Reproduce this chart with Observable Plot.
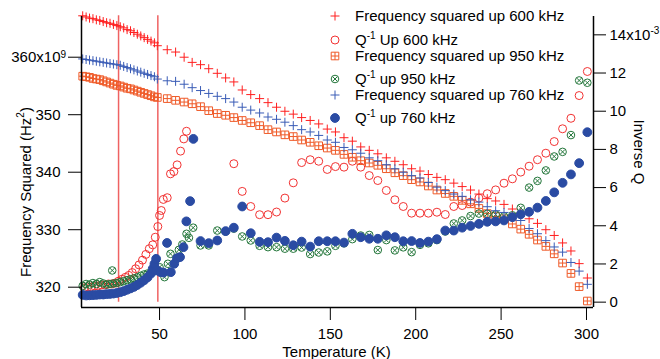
<!DOCTYPE html>
<html><head><meta charset="utf-8">
<script src="https://cdn.jsdelivr.net/npm/d3@7"></script>
<script src="https://cdn.jsdelivr.net/npm/@observablehq/plot@0.6"></script>
<style>
body{margin:0;background:#fff;}
#wrap{position:relative;width:660px;height:359px;font-family:"Liberation Sans",Arial,Helvetica,sans-serif;color:#000;}
.row{position:absolute;left:355px;height:18px;line-height:18px;font-size:15px;white-space:nowrap;}
.row sup{font-size:10px;vertical-align:6px;line-height:0;}
.sym{position:absolute;left:328px;width:14px;height:14px;overflow:visible;}
</style></head><body><div id="wrap"></div>
<script>
// ---------- data ----------
const xTicks = [50, 100, 150, 200, 250, 300];
const fTicks = [320, 330, 340, 350, 360];
const fTickLabels = ["320", "330", "340", "350", "360x10"];
const qTicks = [0, 2, 4, 6, 8, 10, 12, 14];
const qTickLabels = ["0", "2", "4", "6", "8", "10", "12", "14x10"];
const vLines = [26, 49];

// low temperature sweep (frequency squared, 1e9 Hz^2)
const denseT = [5,7,9,11,13,15,17,19,21,23,25,27,29,31,33,35,37,39,41,43,45,47];
const f600Dense = [367.2,367.0,366.8,366.7,366.5,366.4,366.2,366.0,365.9,365.7,365.5,365.3,365.1,364.8,364.6,364.3,364.0,363.7,363.4,363.1,362.8,362.5];
const f950Dense = [356.7,356.6,356.5,356.3,356.2,356.1,355.9,355.7,355.5,355.3,355.1,355.0,354.8,354.6,354.5,354.3,354.1,353.9,353.7,353.5,353.3,353.1];
const f760Dense = [359.7,359.6,359.5,359.4,359.3,359.2,359.1,359.0,358.9,358.8,358.7,358.6,358.4,358.2,358.0,357.8,357.6,357.4,357.2,357.0,356.8,356.6];

// ~5 K steps
const sparseT = [48.7,54.5,59.4,64.4,69.1,74.0,78.8,83.8,88.7,93.5,98.4,103.4,108.6,113.5,118.5,123.4,128.3,133.2,138.2,143.2,148.2,153.0,158.0,162.9,167.8,172.8,177.8,182.8,187.8,192.7,197.6,202.5,207.4,212.4,217.3,222.3,227.2,232.1,237.0,241.9,246.8,251.7,256.6,261.5,266.4,271.3,276.2,281.1,286.0,290.9,295.7,300.5];
const f600Sparse = [362.0,361.3,360.9,360.0,359.1,358.7,358.0,357.2,356.4,355.7,354.3,353.5,352.8,352.1,351.3,350.6,350.1,349.5,349.0,348.4,347.5,347.0,346.0,345.4,344.4,343.8,343.2,342.5,341.9,341.3,340.6,340.2,339.6,339.1,338.7,338.1,337.5,336.9,336.2,335.4,335.0,334.4,333.6,332.9,331.9,331.1,330.0,329.0,327.7,326.3,324.1,321.6];
const f950Sparse = [353.0,352.8,352.5,352.2,351.9,351.4,350.7,350.2,349.9,349.5,349.0,348.6,348.1,347.4,347.0,346.5,346.2,345.6,345.2,344.6,344.2,343.8,343.1,342.6,342.0,341.6,341.2,340.6,339.9,339.4,338.7,338.3,337.6,336.9,336.3,335.8,335.1,334.5,333.7,332.8,332.3,331.9,331.0,330.1,329.2,328.2,327.1,325.8,324.2,322.4,320.1,317.6];
const f760Sparse = [356.2,355.9,355.8,355.3,354.7,354.2,353.7,353.2,352.8,352.2,351.3,350.8,350.3,349.6,349.2,348.7,348.1,347.4,347.0,346.4,345.6,345.2,344.3,343.9,343.3,342.5,342.0,341.3,340.6,340.0,339.4,339.0,338.2,337.4,336.8,336.2,335.8,335.2,334.8,334.0,333.3,333.0,332.2,331.6,330.2,329.3,328.1,327.0,326.1,324.3,322.8,320.5];

// inverse Q (1e-3)
const q600LowT = [6,8,10,12,14,16,18,20,22,24,26,28,30,32,34,36,38,40,42,44,46,47.5,49,50,51,52.2,54.5,56.4,58.4,60.3,62.3,64.2,65.8];
const q600Low = [0.75,0.8,0.8,0.85,0.85,0.9,0.9,0.95,0.95,1.0,1.1,1.2,1.3,1.4,1.55,1.75,1.95,2.2,2.5,2.8,3.0,3.4,3.96,4.54,4.8,5.38,5.47,6.72,6.84,7.19,7.91,8.55,8.95];
const q600Sparse = [7.25,5.80,5.01,4.58,4.58,4.72,5.45,6.25,7.31,7.46,7.38,6.95,7.10,7.07,7.38,7.07,6.63,6.37,5.85,5.36,5.01,4.66,4.66,4.66,4.71,4.59,5.01,5.06,5.24,5.45,5.68,5.88,6.23,6.46,6.81,7.12,7.46,7.80,8.41,9.08,9.63,10.82,12.08];

const q950LowT = [5,7,9,11,13,15,17,19,21,22.3,23,25,27,29,31,33,35,37,39,41,43,45,47,50.0,52.9,54.9,56.4,61.3,63.3,65.8,67.2,69.7];
const q950Low = [0.85,0.95,0.92,1.0,0.95,1.05,0.98,0.92,0.95,1.66,0.98,1.0,1.05,1.1,1.15,1.2,1.25,1.3,1.38,1.45,1.5,1.55,1.65,1.83,1.31,2.01,2.53,2.74,3.02,3.58,3.37,3.90];
const q950Sparse = [2.97,2.97,3.75,3.70,3.85,3.44,3.23,2.95,2.88,2.88,2.80,2.80,2.86,2.52,2.60,2.66,2.95,3.08,3.30,3.49,3.52,2.73,3.25,2.71,2.87,2.62,3.0,3.08,3.25,3.7,4.12,4.28,4.51,4.64,4.63,4.59,4.49,4.55,4.94,6.0,6.35,6.9,7.63,7.87,8.75,11.61,11.49];

const q760LowT = [5,7,9,11,13,15,17,19,21,23,25,27,29,31,33,35,37,39,41,43,45,46,47,48,48.6,50.6,52.3,54.4,56.6,58.6,60.2,62.0,64.0,65.7,67.9,69.8];
const q760Low = [0.38,0.35,0.36,0.37,0.38,0.40,0.40,0.42,0.43,0.45,0.48,0.52,0.58,0.65,0.72,0.80,0.90,1.02,1.15,1.30,1.50,1.75,2.0,2.27,1.66,1.57,1.55,3.1,1.57,2.01,2.3,2.36,2.88,4.23,5.29,8.55];
const q760Sparse = [3.20,3.09,3.23,3.72,3.90,5.01,3.61,3.16,3.14,3.38,3.21,2.98,3.17,2.91,3.19,3.19,3.19,3.12,3.58,3.40,3.32,3.32,3.50,3.40,3.19,3.20,3.10,3.17,3.30,3.75,3.75,3.90,3.99,4.10,4.21,4.23,4.28,4.45,4.60,4.73,4.95,5.30,5.75,6.25,6.69,7.28,8.90];

const legendLabels = [
  {main: "Frequency squared up 600 kHz"},
  {main: "Q", sup: "-1", rest: " Up 600 kHz"},
  {main: "Frequency squared up 950 kHz"},
  {main: "Q", sup: "-1", rest: " up 950 kHz"},
  {main: "Frequency squared up 760 kHz"},
  {main: "Q", sup: "-1", rest: " up 760 kHz"}
];

// ---------- scales / helpers ----------
const xDomain = [4.3, 304.1];
const fDomain = [316.47, 367.08];
const qDomain = [-0.28, 14.96];
const qToF = d3.scaleLinear().domain(qDomain).range(fDomain);

const sym = {
  plus: {draw(c, s){const r=Math.sqrt(s/Math.PI);c.moveTo(-r,0);c.lineTo(r,0);c.moveTo(0,-r);c.lineTo(0,r);}},
  circle: {draw(c, s){const r=Math.sqrt(s/Math.PI);c.moveTo(r,0);c.arc(0,0,r,0,2*Math.PI);c.closePath();}},
  boxplus: {draw(c, s){const r=Math.sqrt(s/Math.PI);c.rect(-r,-r,2*r,2*r);c.moveTo(-r,0);c.lineTo(r,0);c.moveTo(0,-r);c.lineTo(0,r);}},
  otimes: {draw(c, s){const r=Math.sqrt(s/Math.PI);c.moveTo(r,0);c.arc(0,0,r,0,2*Math.PI);c.closePath();const k=r*0.62;c.moveTo(-k,-k);c.lineTo(k,k);c.moveTo(-k,k);c.lineTo(k,-k);}}
};

const C = {f600:"#ff1f1f", q600:"#f23232", f950:"#ef5a28", q950:"#23763a", f760:"#3a5cb6", q760:"#2a4ba3", vline:"#ef6262"};

const rows = (T, V, conv) => T.map((t, i) => ({t, v: conv ? qToF(V[i]) : V[i]}));
const f600 = rows(denseT.concat(sparseT), f600Dense.concat(f600Sparse));
const f950 = rows(denseT.concat(sparseT), f950Dense.concat(f950Sparse));
const f760 = rows(denseT.concat(sparseT), f760Dense.concat(f760Sparse));
const q600 = rows(q600LowT.concat(sparseT.slice(9)), q600Low.concat(q600Sparse), true);
const q950 = rows(q950LowT.concat(sparseT.slice(5)), q950Low.concat(q950Sparse), true);
const q760 = rows(q760LowT.concat(sparseT.slice(5)), q760Low.concat(q760Sparse), true);

const series = [
  {data: f600, symbol: sym.plus, r: 4.5, stroke: C.f600, fill: "none"},
  {data: q600, symbol: sym.circle, r: 4, stroke: C.q600, fill: "none"},
  {data: f950, symbol: sym.boxplus, r: 3.8, stroke: C.f950, fill: "none"},
  {data: q950, symbol: sym.otimes, r: 3.8, stroke: C.q950, fill: "none"},
  {data: f760, symbol: sym.plus, r: 4.5, stroke: C.f760, fill: "none"},
  {data: q760, symbol: sym.circle, r: 4.4, stroke: C.q760, fill: C.q760}
];

const chart = Plot.plot({
  width: 660, height: 359,
  marginLeft: 81, marginRight: 67, marginTop: 16, marginBottom: 52,
  x: {domain: xDomain},
  y: {domain: fDomain},
  style: {fontFamily: '"Liberation Sans", Arial, Helvetica, sans-serif', fontSize: "15px", background: "white", color: "black", overflow: "visible"},
  marks: [
    Plot.ruleX(vLines, {y1: qToF(0), y2: qToF(15), stroke: C.vline, strokeWidth: 1.5}),
    ...series.map(s => Plot.dot(s.data, {x: "t", y: "v", symbol: () => s.symbol, r: s.r, stroke: s.stroke, fill: s.fill, strokeWidth: 1})),
    Plot.ruleX([xDomain[0], xDomain[1]], {stroke: "black", strokeWidth: 1.5}),
    Plot.ruleY([fDomain[0]], {stroke: "black", strokeWidth: 1.5}),
    Plot.axisX({ticks: xTicks, tickSize: 13, tickPadding: 8, label: null, stroke: "black"}),
    Plot.axisY({anchor: "left", ticks: fTicks, tickSize: 13, tickPadding: 8, label: null,
      tickFormat: d => fTickLabels[fTicks.indexOf(d)]}),
    Plot.axisY({anchor: "right", ticks: qTicks.map(q => qToF(q)), tickSize: 12, tickPadding: 4, label: null,
      tickFormat: d => qTickLabels[qTicks.indexOf(Math.round(qToF.invert(d)))]})
  ]
});

const wrap = document.getElementById("wrap");
wrap.appendChild(chart);

// superscripts on tick labels
const svg = d3.select(chart);
svg.selectAll("text").each(function() {
  const t = this.textContent;
  if (t === "360x10") {
    const c = this.cloneNode(true);
    c.textContent = "9";
    c.setAttribute("text-anchor", "start");
    c.setAttribute("font-size", "10px");
    c.setAttribute("dy", "-0.25em");
    this.parentNode.appendChild(c);
  } else if (t === "14x10") {
    d3.select(this).append("tspan").attr("font-size", "10px").attr("dy", "-0.55em").text("-3");
  }
});

// axis titles
svg.append("text").attr("x", 336.5).attr("y", 356.5).attr("text-anchor", "middle")
  .attr("font-size", 15).text("Temperature (K)");
const yl = svg.append("text").attr("transform", "translate(31,192) rotate(-90)").attr("text-anchor", "middle").attr("font-size", 15);
yl.append("tspan").text("Frequency Squared (Hz");
yl.append("tspan").attr("font-size", 10).attr("dy", "-0.75em").text("2");
yl.append("tspan").attr("dy", "0.5em").text(")");
svg.append("text").attr("transform", "translate(634,152) rotate(90)").attr("text-anchor", "middle")
  .attr("font-size", 15).text("Inverse Q");

// legend
const rowCenters = [16, 39.5, 55.5, 78.5, 94.5, 117.5];
legendLabels.forEach((L, i) => {
  const s = series[i];
  const y = rowCenters[i];
  const d = d3.select(wrap);
  const sv = d.append("svg").attr("class", "sym").style("top", (y - 7) + "px").attr("viewBox", "-7 -7 14 14");
  sv.append("path").attr("d", d3.symbol(s.symbol, s.r * s.r * Math.PI)())
    .attr("stroke", s.stroke).attr("fill", s.fill).attr("stroke-width", 1);
  const row = d.append("div").attr("class", "row").style("top", (y - 9) + "px");
  row.append("span").text(L.main);
  if (L.sup) { row.append("sup").text(L.sup); row.append("span").text(L.rest); }
});
</script></body></html>
